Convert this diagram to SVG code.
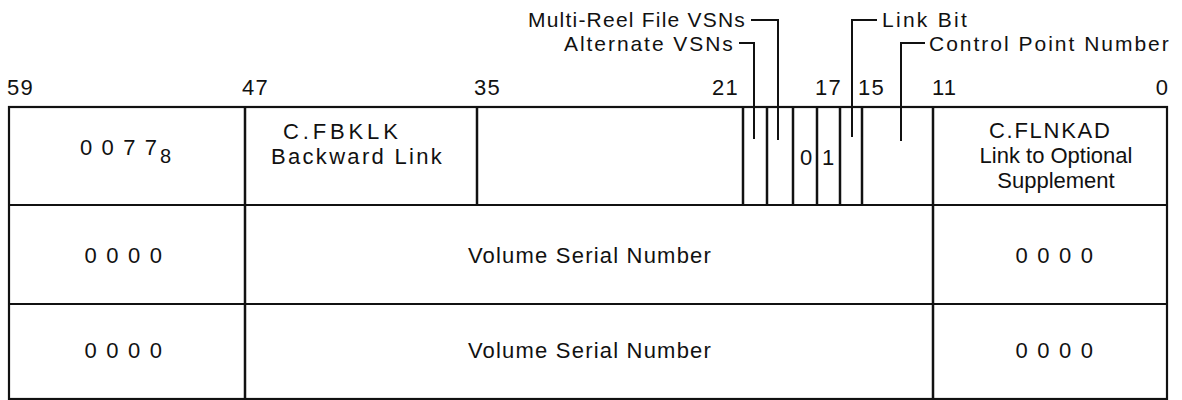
<svg xmlns="http://www.w3.org/2000/svg" width="1182" height="400" viewBox="0 0 1182 400">
<style>
text{font-family:"Liberation Sans",Arial,sans-serif;font-size:22px;fill:#111;letter-spacing:1.2px}
.c{text-anchor:middle}
.e{text-anchor:end}
.s{font-size:21px}
.n{letter-spacing:0}
.d{letter-spacing:9.5px}
.b{stroke:#111;stroke-width:2.2;fill:none}
.t{stroke:#111;stroke-width:2.5;fill:none}
.l{stroke:#111;stroke-width:2;fill:none}
</style>
<rect width="1182" height="400" fill="#fff"/>
<g id="bit-numbers">
<text x="7" y="95">59</text>
<text x="242" y="95">47</text>
<text x="474" y="95">35</text>
<text x="712" y="95">21</text>
<text x="815" y="95">17</text>
<text x="858" y="95">15</text>
<text x="932" y="95">11</text>
<text class="e n" x="1168" y="95">0</text>
</g>
<g id="table-frame">
<rect class="b" x="9" y="107" width="1158" height="292"/>
<line class="b" x1="9" y1="205" x2="1167" y2="205"/>
<line class="b" x1="9" y1="304" x2="1167" y2="304"/>
<line class="t" x1="245" y1="107" x2="245" y2="399"/>
<line class="t" x1="477" y1="107" x2="477" y2="205"/>
<line class="t" x1="933" y1="107" x2="933" y2="399"/>
<line class="t" x1="743" y1="107" x2="743" y2="205"/>
<line class="t" x1="767" y1="107" x2="767" y2="205"/>
<line class="t" x1="793" y1="107" x2="793" y2="205"/>
<line class="t" x1="817" y1="107" x2="817" y2="205"/>
<line class="t" x1="840" y1="107" x2="840" y2="205"/>
<line class="t" x1="862" y1="107" x2="862" y2="205"/>
</g>
<g id="cell-0077">
<text class="n" x="80" y="155" textLength="77" lengthAdjust="spacing">0077</text>
<text class="n" x="160" y="163" style="font-size:20px">8</text>
</g>
<g id="cell-fbklk">
<text class="c" x="341" y="139" textLength="116" lengthAdjust="spacing">C.FBKLK</text>
<text class="c" x="357" y="164" textLength="172" lengthAdjust="spacing">Backward Link</text>
</g>
<g id="cell-bits">
<text class="n" x="800" y="165">0</text>
<text class="n" x="822" y="165">1</text>
</g>
<g id="cell-flnkad">
<text class="c" x="1050" y="138" textLength="122" lengthAdjust="spacing">C.FLNKAD</text>
<text class="c n" x="1056" y="163">Link to Optional</text>
<text class="c n" x="1056" y="188">Supplement</text>
</g>
<g id="row2">
<text class="c d" x="128" y="263">0000</text>
<text class="c" x="590" y="263">Volume Serial Number</text>
<text class="c d" x="1059" y="263">0000</text>
</g>
<g id="row3">
<text class="c d" x="128" y="358">0000</text>
<text class="c" x="590" y="358">Volume Serial Number</text>
<text class="c d" x="1059" y="358">0000</text>
</g>
<g id="field-labels">
<text class="e s" x="746" y="27" textLength="218" lengthAdjust="spacing">Multi-Reel File VSNs</text>
<text class="e s" x="734" y="51" textLength="170" lengthAdjust="spacing">Alternate VSNs</text>
<text class="s" x="882" y="27" textLength="86" lengthAdjust="spacing">Link Bit</text>
<text class="s" x="929" y="51" textLength="241" lengthAdjust="spacing">Control Point Number</text>
</g>
<g id="connectors">
<polyline class="l" points="751,20 778,20 778,140"/>
<polyline class="l" points="739,43 754,43 754,139"/>
<polyline class="l" points="877,20 852,20 852,137"/>
<polyline class="l" points="925,43 901,43 901,141"/>
</g>
</svg>
